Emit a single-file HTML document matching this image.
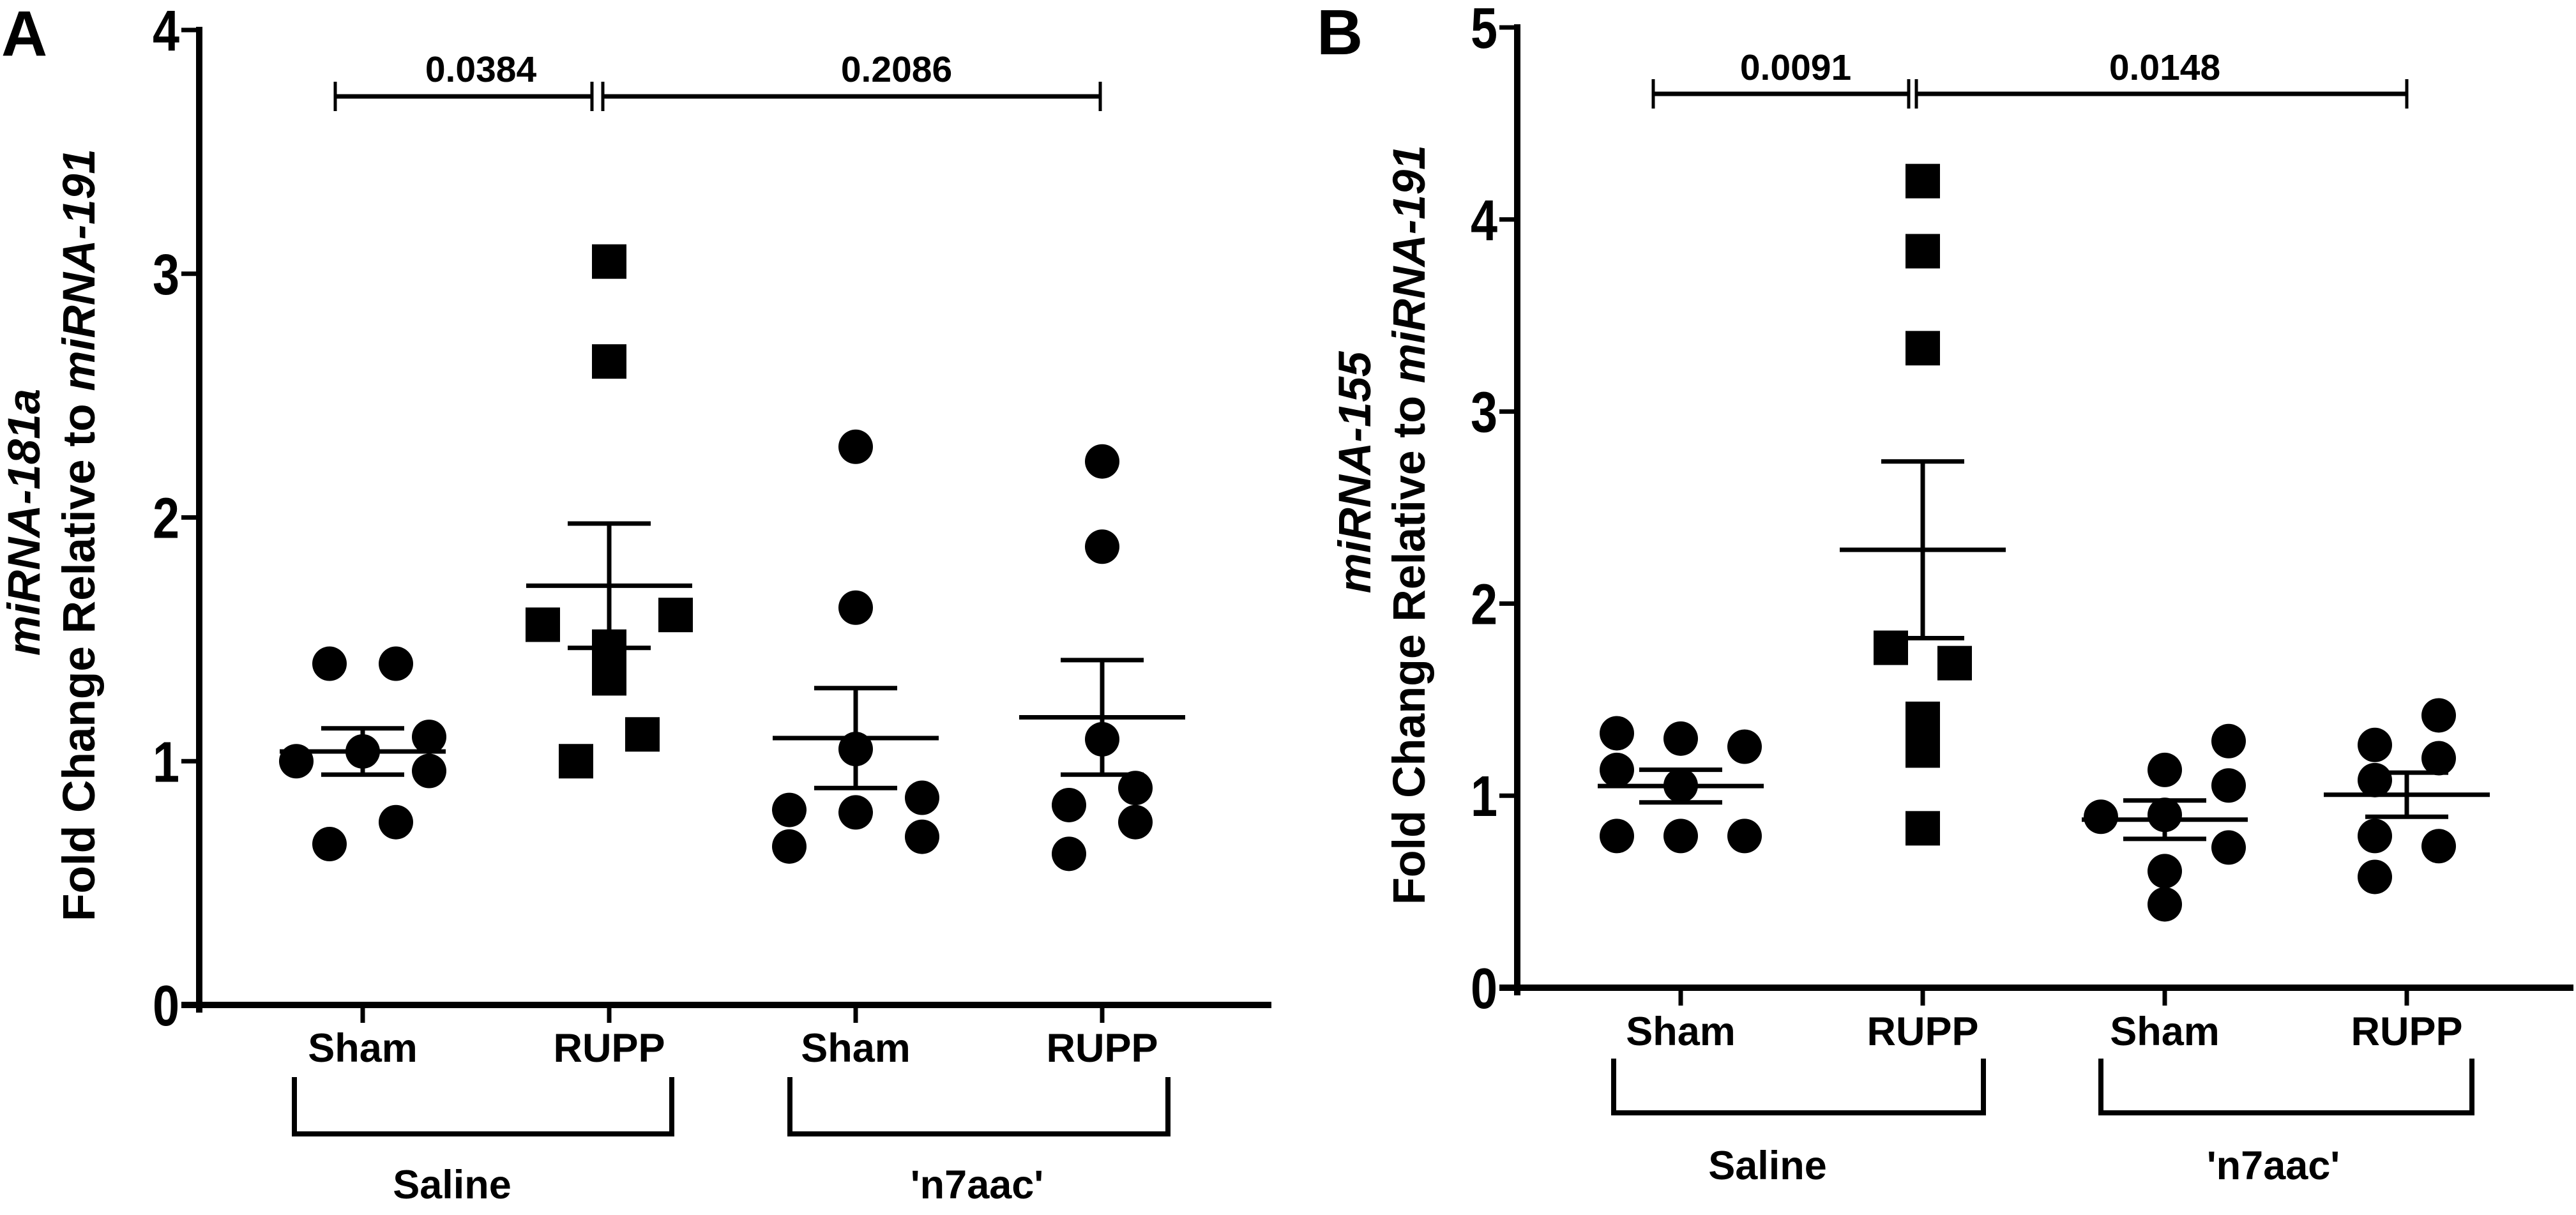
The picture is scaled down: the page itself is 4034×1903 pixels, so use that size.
<!DOCTYPE html>
<html><head><meta charset="utf-8"><style>
html,body{margin:0;padding:0;background:#fff;}
svg{display:block;}
text{font-family:"Liberation Sans",Arial,sans-serif;font-weight:bold;fill:#000;}
</style></head><body>
<svg id="fig" width="4034" height="1903" viewBox="0 0 4034 1903" xmlns="http://www.w3.org/2000/svg"></svg>
<script>
// ---- Panel A data ----
const categoriesA = ["Sham","RUPP","Sham","RUPP"];
const groupsA = ["Saline","'n7aac'"];
const valuesA0 = [1.40,1.40,1.10,1.00,1.04,0.96,0.75,0.66];
const valuesA1 = [3.05,2.64,1.56,1.60,1.47,1.34,1.11,1.00];
const valuesA2 = [2.29,1.63,1.05,0.80,0.85,0.79,0.65,0.69];
const valuesA3 = [2.23,1.88,1.09,0.82,0.89,0.75,0.62];
const slotsA0 = [-1,1,2,-2,0,2,1,-1];
const slotsA1 = [0,0,-2,2,0,0,1,-1];
const slotsA2 = [0,0,0,-2,2,0,-2,2];
const slotsA3 = [0,0,0,-1,1,1,-1];
const meansA = [1.04,1.72,1.095,1.18];
const semA = [0.095,0.255,0.205,0.235];
const yTicksA = [0,1,2,3,4];
const pLabelsA = ["0.0384","0.2086"];

// ---- Panel B data ----
const categoriesB = ["Sham","RUPP","Sham","RUPP"];
const groupsB = ["Saline","'n7aac'"];
const valuesB0 = [1.325,1.297,1.255,1.134,1.053,0.79,0.79,0.79];
const valuesB1 = [4.20,3.835,3.33,1.77,1.69,1.40,1.235,0.83];
const valuesB2 = [0.89,1.134,1.284,1.053,0.90,0.73,0.607,0.434];
const valuesB3 = [1.418,1.264,1.195,1.081,0.79,0.737,0.577];
const slotsB0 = [-2,0,2,-2,0,-2,0,2];
const slotsB1 = [0,0,0,-1,1,0,0,0];
const slotsB2 = [-2,0,2,2,0,2,0,0];
const slotsB3 = [1,-1,1,-1,-1,1,-1];
const meansB = [1.05,2.28,0.875,1.005];
const semB = [0.085,0.46,0.10,0.115];
const yTicksB = [0,1,2,3,4,5];
const pLabelsB = ["0.0091","0.0148"];

const NS="http://www.w3.org/2000/svg";
const svg=document.getElementById('fig');
function mk(tag,attrs,parent){const e=document.createElementNS(NS,tag);for(const k in attrs)e.setAttribute(k,attrs[k]);(parent||svg).appendChild(e);return e;}
function line(g,x1,y1,x2,y2,w,name){const l=mk('line',{x1,y1,x2,y2,stroke:'#000','stroke-width':w},g);


return l;}
function txt(g,s,x,y,size,anchor,name,extra){const t=mk('text',Object.assign({x,y,'font-size':size,'text-anchor':anchor||'middle'},extra||{}),g);t.textContent=s;


return t;}

function panel(cfg){
  const g=mk('g',{});
  
  
  const yS=v=>cfg.y0-(cfg.y0-cfg.yTop)*v/cfg.ymax;
  const xS=i=>cfg.cx0+i*cfg.step;
  // axes
  line(g,cfg.ax,cfg.yTop-5,cfg.ax,cfg.y0+12,10,'y-axis');
  line(g,cfg.ax-28,cfg.y0,cfg.xEnd,cfg.y0,10,'x-axis');
  cfg.ticks.forEach(v=>{
    line(g,cfg.ax-28,yS(v),cfg.ax,yS(v),7,'y-tick');
    const t=txt(g,String(v),0,0,90,'end','y-tick-label',{transform:`translate(${cfg.ax-31},${yS(v)+32}) scale(0.84,1)`});
  });
  cfg.cats.forEach((c,i)=>{
    line(g,xS(i),cfg.y0,xS(i),cfg.y0+28,7,'x-tick');
    txt(g,c,xS(i),cfg.catBase,63,'middle','x-tick-label');
  });
  // group brackets
  cfg.brackets.forEach((b,k)=>{
    const p=mk('path',{d:`M${b[0]} ${cfg.brTop} V${cfg.brBot} H${b[1]} V${cfg.brTop}`,fill:'none',stroke:'#000','stroke-width':8},g);
    
    
    txt(g,cfg.groups[k],cfg.groupX[k],cfg.grpBase,63,'middle','group-label');
  });
  // data
  cfg.values.forEach((arr,i)=>{
    arr.forEach((v,j)=>{
      const x=xS(i)+cfg.slots[i][j]*cfg.slotW, y=yS(v);
      let m;
      if(cfg.square[i]) m=mk('rect',{x:x-27,y:y-27,width:54,height:54,fill:'#000'},g);
      else m=mk('circle',{cx:x,cy:y,r:27,fill:'#000'},g);
      
      
    });
    const mx=xS(i), mv=cfg.means[i], se=cfg.sem[i];
    line(g,mx-130,yS(mv),mx+130,yS(mv),7,'mean-line');
    line(g,mx,yS(mv-se),mx,yS(mv+se),7,'sem-bar');
    line(g,mx-65,yS(mv+se),mx+65,yS(mv+se),7,'sem-cap-upper');
    line(g,mx-65,yS(mv-se),mx+65,yS(mv-se),7,'sem-cap-lower');
  });
  // significance bars
  const s=cfg.sig;
  line(g,s.l,s.y,s.d1,s.y,7,'significance-bar-1');
  line(g,s.d2,s.y,s.r,s.y,7,'significance-bar-2');
  [s.l,s.d1,s.d2,s.r].forEach(x=>line(g,x,s.y-23,x,s.y+23,5,'significance-cap'));
  txt(g,cfg.p[0],s.t1,s.ty,57,'middle','p-value-label');
  txt(g,cfg.p[1],s.t2,s.ty,57,'middle','p-value-label');
  // titles
  txt(g,cfg.letter,cfg.letterX,cfg.letterY,100,'start','panel-letter');
  txt(g,cfg.title1,0,0,71,'middle','y-axis-title-gene',{'font-style':'italic',transform:`translate(${cfg.t1x},${cfg.t1y}) rotate(-90)`});
  const t2=txt(g,'',0,0,71,'middle','y-axis-title',{transform:`translate(${cfg.t2x},${cfg.tcy}) rotate(-90)`,textLength:cfg.tLen,lengthAdjust:'spacingAndGlyphs'});
  t2.appendChild(document.createTextNode('Fold Change Relative to '));
  const ts=mk('tspan',{'font-style':'italic'},t2);ts.textContent='miRNA-191';
}

panel({name:'panel-a',letter:'A',letterX:2,letterY:87,ax:312,y0:1574,yTop:47,ymax:4,ticks:yTicksA,
  cats:categoriesA,cx0:568,step:386,xEnd:1991,catBase:1663,
  brackets:[[461,1052],[1237,1829]],brTop:1687,brBot:1776,groups:groupsA,groupX:[708,1530],grpBase:1877,
  values:[valuesA0,valuesA1,valuesA2,valuesA3],slots:[slotsA0,slotsA1,slotsA2,slotsA3],slotW:52,
  square:[false,true,false,false],means:meansA,sem:semA,
  sig:{l:525,d1:927,d2:944,r:1723,y:151,t1:753,t2:1404,ty:128},p:pLabelsA,
  title1:'miRNA-181a',t1x:62,t1y:818,t2x:148,tcy:838,tLen:1210});

panel({name:'panel-b',letter:'B',letterX:2062,letterY:85,ax:2376,y0:1547,yTop:43,ymax:5,ticks:yTicksB,
  cats:categoriesB,cx0:2632,step:379,xEnd:4030,catBase:1637,
  brackets:[[2527,3106],[3290,3871]],brTop:1658,brBot:1743,groups:groupsB,groupX:[2768,3560],grpBase:1847,
  values:[valuesB0,valuesB1,valuesB2,valuesB3],slots:[slotsB0,slotsB1,slotsB2,slotsB3],slotW:50,
  square:[false,true,false,false],means:meansB,sem:semB,
  sig:{l:2589,d1:2989,d2:3001,r:3769,y:147,t1:2812,t2:3390,ty:125},p:pLabelsB,
  title1:'miRNA-155',t1x:2146,t1y:740,t2x:2231,tcy:822,tLen:1190});
</script>
</body></html>
